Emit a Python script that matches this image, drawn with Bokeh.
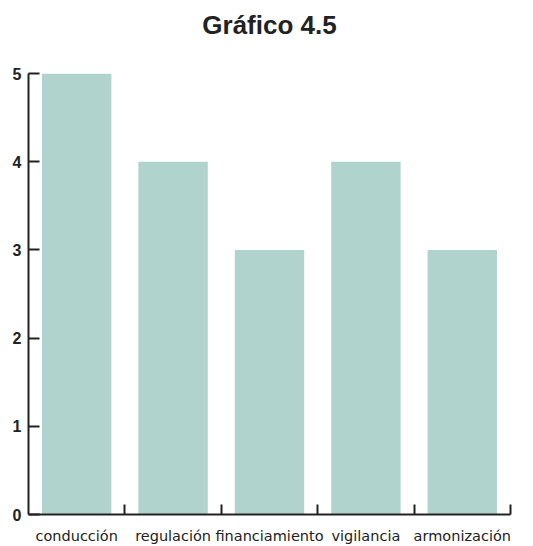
import numpy as np
from bokeh.plotting import figure
from bokeh.models import ColumnDataSource, FixedTicker, Range1d, Title
from bokeh.embed import file_html
from bokeh.resources import INLINE

title_text = "Gráfico 4.5"
categories = ["conducción", "regulación", "financiamiento", "vigilancia", "armonización"]
values = [5, 4, 3, 4, 3]
y_ticks = [0, 1, 2, 3, 4, 5]

n = len(categories)
centers = np.arange(n) + 0.5
boundaries = list(np.arange(1, n + 1).astype(float))

source = ColumnDataSource(dict(x=centers, top=values, cat=categories))

FW, FH = 482, 441
p = figure(width=525, height=546, output_backend="svg", toolbar_location=None,
           x_range=Range1d(0, n), y_range=Range1d(0, 5), title=None,
           min_border_left=28, min_border_right=15, min_border_top=73, min_border_bottom=32)
p.frame_width = FW
p.frame_height = FH

p.vbar(x="x", top="top", width=0.72, source=source, fill_color="#b0d4cd", line_color=None)

spacer = Title(text=" ", text_font_size="15px", align="center")
p.add_layout(spacer, "above")
main_title = Title(text=title_text, align="center", text_font="Liberation Sans",
                   text_font_size="26px", text_font_style="bold", text_color="#222222")
p.add_layout(main_title, "above")

p.grid.visible = False
p.outline_line_color = None
p.background_fill_color = "white"
p.border_fill_color = "white"

xa = p.xaxis[0]
xa.ticker = FixedTicker(ticks=list(centers), minor_ticks=boundaries)
xa.major_label_overrides = {float(c): lab for c, lab in zip(centers, categories)}
xa.major_tick_in = 0
xa.major_tick_out = 0
xa.minor_tick_in = 10
xa.minor_tick_out = 0
xa.minor_tick_line_width = 2
xa.minor_tick_line_color = "#222222"
xa.axis_line_width = 2
xa.axis_line_color = "#222222"
xa.major_label_text_font = "DejaVu Sans"
xa.major_label_text_font_size = "14.5px"
xa.major_label_text_color = "#222222"
xa.major_label_standoff = 13

ya = p.yaxis[0]
ya.ticker = FixedTicker(ticks=y_ticks)
ya.major_tick_in = 11
ya.major_tick_out = 0
ya.minor_tick_in = 0
ya.minor_tick_out = 0
ya.major_tick_line_width = 2
ya.major_tick_line_color = "#222222"
ya.axis_line_width = 2
ya.axis_line_color = "#222222"
ya.major_label_text_font = "Liberation Sans"
ya.major_label_text_font_style = "bold"
ya.major_label_text_font_size = "16px"
ya.major_label_text_color = "#222222"
ya.major_label_standoff = 7

open("out.html", "w").write(file_html(p, INLINE))
